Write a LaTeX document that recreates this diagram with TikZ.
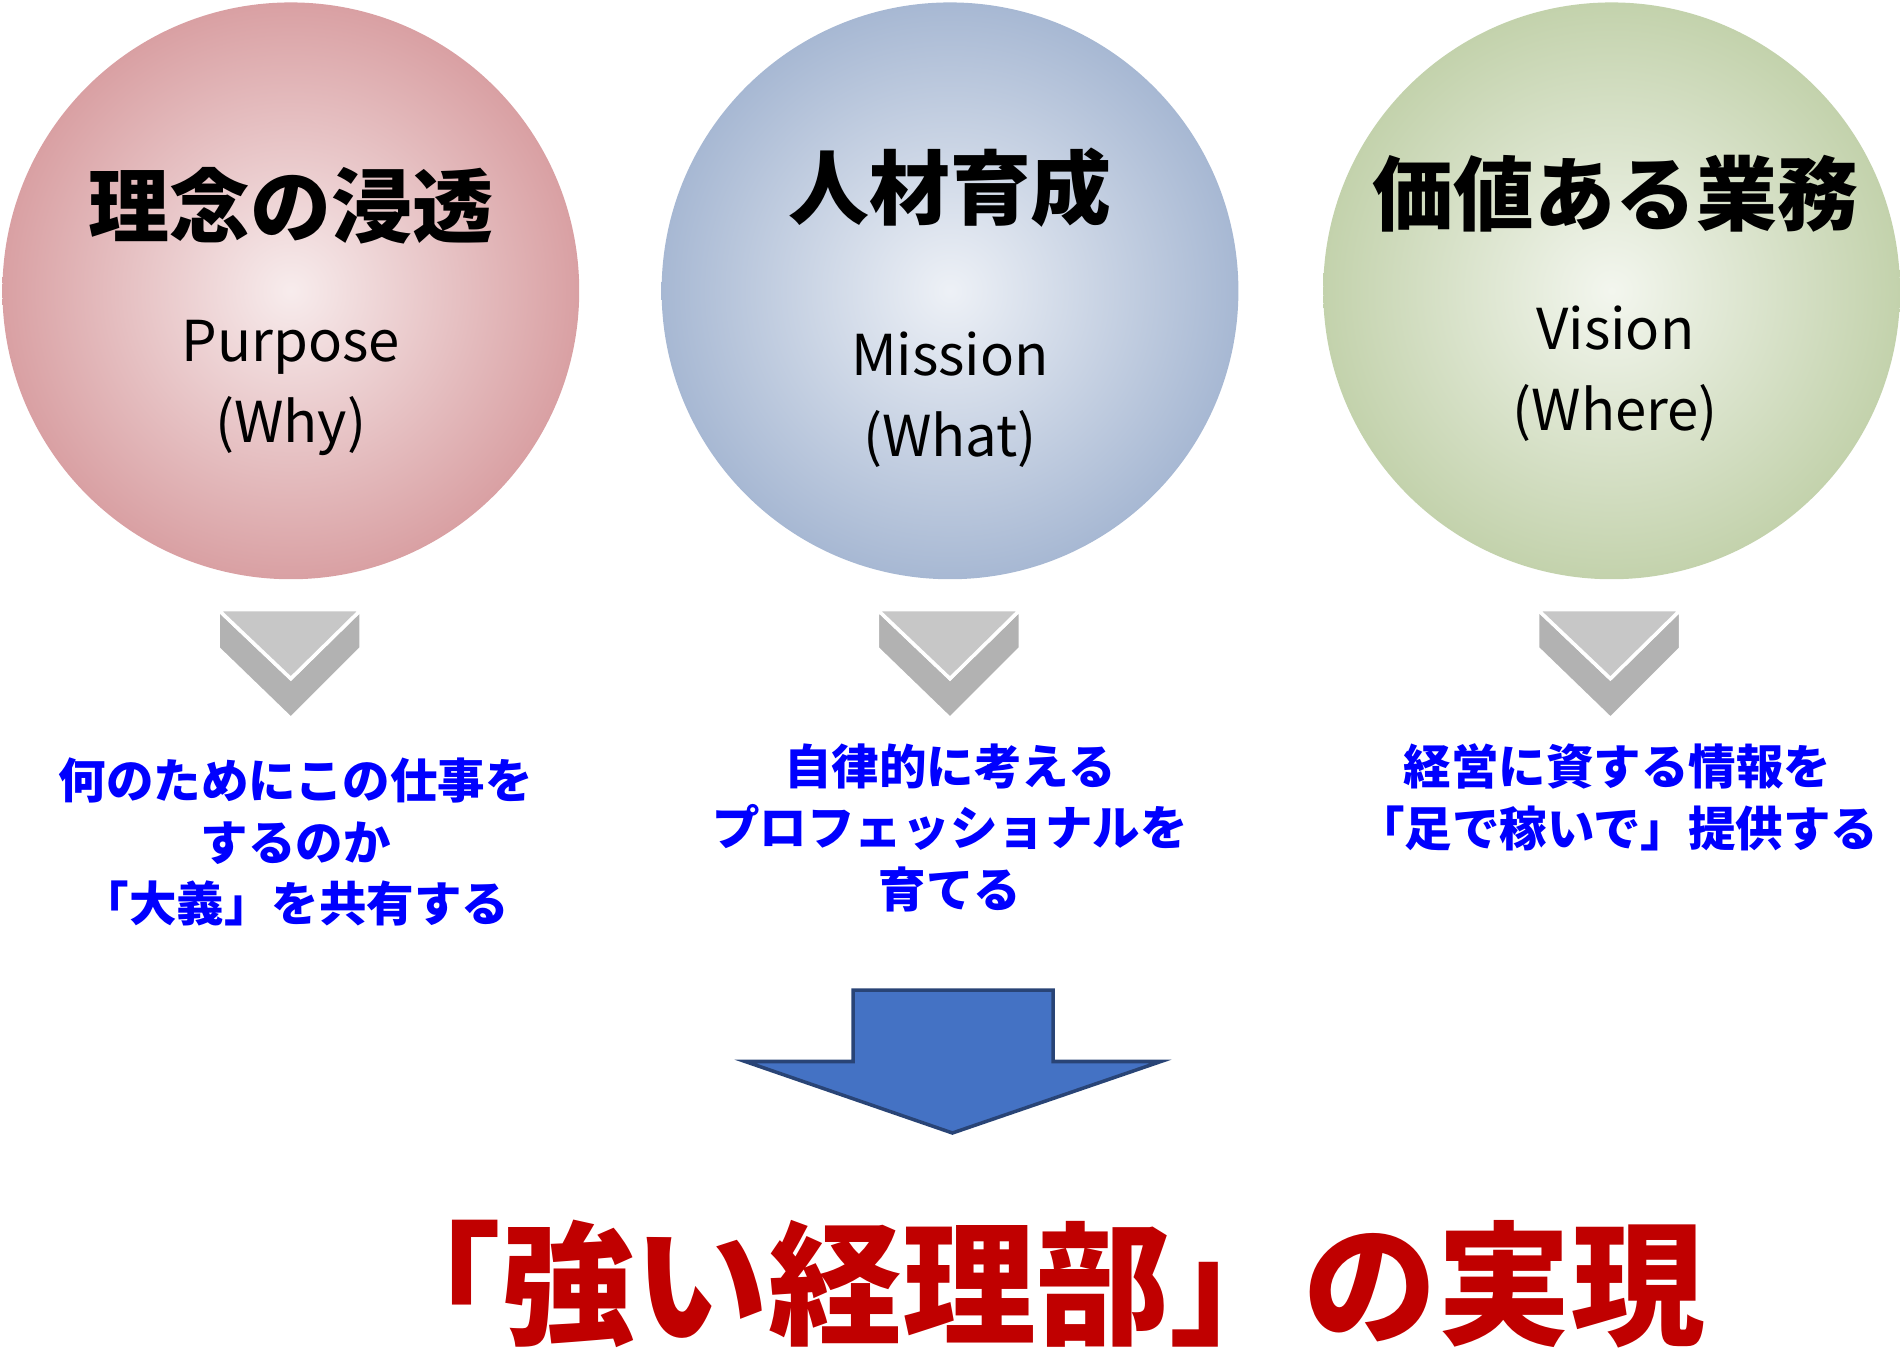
\documentclass[tikz,border=0pt]{standalone}
\usepackage{fontspec}
\setmainfont{Noto Sans CJK JP}
\usepackage{xcolor}
\definecolor{ArrowBlue}{HTML}{4472C4}
\definecolor{DeepRed}{HTML}{C00000}
\definecolor{PinkEdge}{HTML}{D9A0A3}
\definecolor{BlueEdge}{HTML}{A7B8D3}
\definecolor{GreenEdge}{HTML}{C3D2AC}
\colorlet{ChevGray}{black!30}
\tikzstyle{sphereNode}=[circle, minimum size=5.76cm, inner sep=0pt, shading=radial]
\tikzstyle{titleText}=[font=\bfseries\fontsize{23}{27}\selectfont]
\tikzstyle{subText}=[font=\fontsize{16}{23}\selectfont, align=center]
\tikzstyle{goalText}=[font=\bfseries\fontsize{13.5}{17.5}\selectfont, text=blue, align=center]
\tikzstyle{chevron}=[fill=ChevGray, draw=white, line width=1pt]

\begin{document}
\begin{tikzpicture}[x=0.0121cm, y=-0.0121cm]
    \useasboundingbox (0,0) rectangle (1568,1116);

    % Spheres
    \node[sphereNode, inner color=PinkEdge!20!white, outer color=PinkEdge] (purpose) at (240,240) {};
    \node[sphereNode, inner color=BlueEdge!20!white, outer color=BlueEdge] (mission) at (784,240) {};
    \node[sphereNode, inner color=GreenEdge!20!white, outer color=GreenEdge] (vision) at (1330,240) {};

    \node[titleText] (purposeTitle) at (240,170) {理念の浸透};
    \node[titleText] (missionTitle) at (784,155) {人材育成};
    \node[titleText] (visionTitle) at (1333,160) {価値ある業務};

    \node[subText] (purposeSub) at (240,320) {Purpose\\(Why)};
    \node[subText] (missionSub) at (784,330) {Mission\\(What)};
    \node[subText] (visionSub) at (1333,308) {Vision\\(Where)};

    % Chevrons
    \foreach \cx in {240,784,1329}{
        \fill[chevron] (\cx-60,503) -- (\cx,560) -- (\cx+58,503) -- (\cx+58,535) -- (\cx,593) -- (\cx-60,535) -- cycle;
        \fill[chevron, fill=black!22] (\cx-60,503) -- (\cx+58,503) -- (\cx,560) -- cycle;
    }

    % Goals
    \node[goalText] (purposeGoal) at (244,695) {何のためにこの仕事を\\するのか\\「大義」を共有する};
    \node[goalText] (missionGoal) at (784,683) {自律的に考える\\プロフェッショナルを\\育てる};
    \node[goalText] (visionGoal) at (1335,658) {経営に資する情報を\\「足で稼いで」提供する};

    % Big arrow
    \fill[ArrowBlue, draw=ArrowBlue!60!black, line width=1pt]
        (704,817) -- (869,817) -- (869,876) -- (958,876) -- (786,935) -- (615,876) -- (704,876) -- cycle;

    % Result
    \node[font=\bfseries\fontsize{38}{44}\selectfont, text=DeepRed] (result) at (855,1060) {「強い経理部」の実現};
\end{tikzpicture}
\end{document}
